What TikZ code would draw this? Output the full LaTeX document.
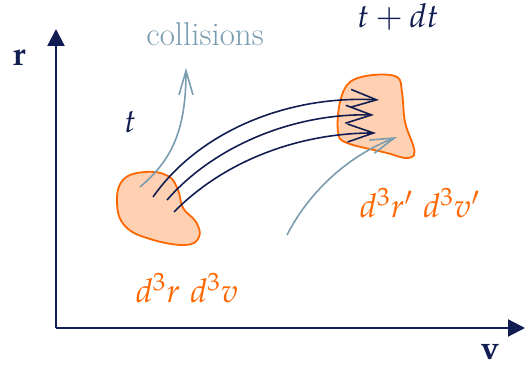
\documentclass[tikz,border=0pt]{standalone}
\usepackage{mathpazo}
\usepackage{tikz}
\definecolor{phnavy}{RGB}{18,30,82}
\definecolor{phorange}{RGB}{255,102,0}
\definecolor{phsteel}{RGB}{122,156,176}
\usetikzlibrary{
  arrows.meta
}

\begin{document}
\begin{tikzpicture}[
    x=0.5pt, y=-0.5pt,
    font=\fontsize{16.5}{19}\selectfont,
    blob/.style={draw=phorange, fill=phorange!30, line width=0.9pt},
    flow/.style={phnavy, line width=0.8pt, -{Straight Barb[length=13pt, width=9pt]}},
    kick/.style={phsteel, line width=0.8pt, -{Straight Barb[length=12pt, width=7pt]}}
  ]
  \useasboundingbox (0,0) rectangle (525,367);

  %% --- Axes ---
  \coordinate (o) at (56,328);
  \coordinate (rtop) at (56,29);
  \coordinate (vend) at (525,328);
  \draw[phnavy, line width=1.1pt, -{Triangle[length=8.5pt, width=8.5pt]}] (o) -- (rtop);
  \draw[phnavy, line width=1.1pt, -{Triangle[length=8.5pt, width=8.5pt]}] (o) -- (vend);
  \node[phnavy] (rlab) at (19,58) {$\mathbf{r}$};
  \node[phnavy] (vlab) at (490,352) {$\mathbf{v}$};

  %% --- Phase-space volumes ---
  \draw[blob] plot[smooth cycle, tension=0.7] coordinates {
    (123,180) (145,172) (168,176) (178,190) (183,208) (196,222)
    (199,237) (185,245) (150,239) (125,226) (117,203)};
  \draw[blob] plot[smooth cycle, tension=0.6] coordinates {
    (350,82) (373,75) (397,77) (402,92) (405,122) (413,145)
    (414,155) (405,158) (387,153) (347,143) (338,132) (340,102)};

  %% --- Trajectories ---
  \coordinate (a1) at (153,197);
  \coordinate (a2) at (167,200);
  \coordinate (a3) at (174,212);
  \coordinate (b1) at (379,100);
  \coordinate (b2) at (374,115);
  \coordinate (b3) at (376,133);
  \draw[flow] (a1) .. controls (200,130) and (290,95) .. (b1);
  \draw[flow] (a2) .. controls (215,145) and (295,113) .. (b2);
  \draw[flow] (a3) .. controls (225,160) and (300,133) .. (b3);

  %% --- Collisions ---
  \coordinate (c1) at (140,187);
  \coordinate (c2) at (186,68);
  \coordinate (c3) at (287,235);
  \coordinate (c4) at (397,137);
  \draw[kick] (c1) .. controls (172,160) and (186,130) .. (c2);
  \draw[kick] (c3) .. controls (310,190) and (350,155) .. (c4);

  %% --- Labels ---
  \node[phsteel] (coll) at (205,34) {collisions};
  \node[phnavy] (tdt) at (398,17) {$t + dt$};
  \node[phnavy] (tlab) at (130,122) {$t$};
  \node[phorange] (vol) at (187,288) {$d^3r\ d^3v$};
  \node[phorange] (volp) at (420,203) {$d^3r'\ d^3v'$};
\end{tikzpicture}
\end{document}
